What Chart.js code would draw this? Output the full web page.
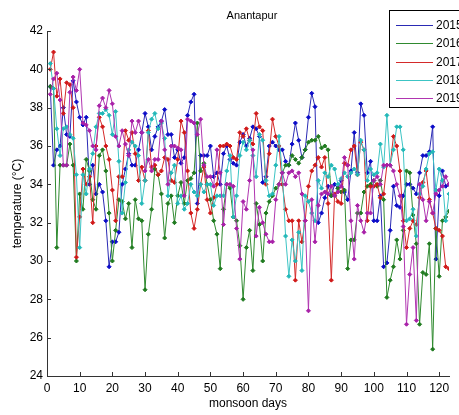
<!DOCTYPE html>
<html>
<head>
<meta charset="utf-8">
<script src="https://cdn.jsdelivr.net/npm/chart.js@4/dist/chart.umd.min.js"></script>
<style>
  html, body { margin: 0; padding: 0; background: #fff; }
  #wrap { width: 459px; height: 415px; }
</style>
</head>
<body>
<div id="wrap"><canvas id="chart" width="459" height="415"></canvas></div>
<script>
// ===== Data =====
const chartTitle = 'Anantapur';
const xTitle = 'monsoon days';
const yTitle = 'temperature (°C)';
const years = ['2015', '2016', '2017', '2018', '2019'];
const xTicks = [0, 10, 20, 30, 40, 50, 60, 70, 80, 90, 100, 110, 120];
const yTicks = [24, 26, 28, 30, 32, 34, 36, 38, 40, 42];

const t2015 = [
  39.1, 35.0, 35.8, 36.0, 38.0, 36.6, 36.5, 39.4, 38.3, 37.5,
  37.1, 37.5, 34.0, 35.0, 33.5, 34.0, 33.6, 32.1, 29.7, 31.0,
  31.0, 31.5, 34.0, 34.8, 35.6, 35.0, 35.0, 35.8, 36.7, 37.7,
  37.0, 35.8, 36.5, 37.0, 37.3, 37.9, 36.6, 36.6, 35.4, 35.8,
  35.1, 35.4, 37.6, 38.3, 38.7, 33.0, 35.5, 35.5, 35.5, 36.0,
  34.4, 34.6, 34.0, 35.6, 36.0, 35.3, 35.1, 35.0, 36.2, 36.6,
  36.0, 36.4, 37.0, 36.9, 36.5, 34.1, 34.4, 36.0, 36.2, 36.0,
  35.8, 35.8, 35.2, 35.0, 36.1, 37.2, 36.3, 35.4, 35.8, 37.5,
  38.75, 38.05, 32.0, 32.5, 33.3, 33.9, 33.4, 34.0, 33.8, 34.2,
  33.6, 33.2, 34.7, 36.7, 34.6, 38.2, 37.6, 34.6, 35.2, 32.1,
  32.1, 33.4, 29.7, 29.9, 31.6, 33.9, 32.9, 32.8, 33.4, 34.0,
  34.0, 33.8, 33.5, 34.6, 35.5, 35.5, 35.7, 37.0, 30.1, 33.4,
  34.7, 33.9, 34.0
];
const t2016 = [
  39.1, 39.0, 30.7, 35.0, 35.0, 35.0, 36.1, 35.0, 30.0, 33.5,
  32.7, 35.3, 34.7, 33.2, 32.7, 35.5, 35.8, 34.7, 32.5, 30.0,
  31.6, 33.2, 33.1, 32.2, 33.0, 30.7, 33.2, 32.2, 32.1, 28.5,
  31.4, 32.7, 34.8, 34.5, 33.5, 31.2, 33.0, 33.4, 32.0, 33.4,
  34.1, 33.0, 34.2, 34.3, 34.6, 37.2, 34.7, 35.1, 34.0, 33.2,
  32.1, 31.4, 29.6, 32.7, 34.0, 33.8, 32.3, 32.1, 30.8, 28.0,
  30.7, 31.6, 29.5, 33.0, 31.9, 30.0, 32.5, 33.1, 33.4, 33.8,
  34.0, 34.6, 35.0, 35.0, 35.5, 35.3, 35.1, 35.4, 35.8, 36.2,
  36.3, 36.3, 36.5, 35.9, 36.0, 35.8, 33.4, 33.4, 33.8, 33.6,
  33.7, 29.6, 31.1, 31.1, 32.5, 32.5, 33.6, 33.9, 34.0, 34.2,
  33.9, 34.2, 33.2, 28.1, 29.0, 29.7, 31.1, 30.1, 31.6, 34.7,
  34.6, 32.4, 30.9, 26.7, 29.4, 29.3, 30.9, 25.4, 31.7, 29.2,
  32.1, 32.3, 32.6
];
const t2017 = [
  40.0, 40.9, 38.6, 39.5, 37.7, 39.3, 39.2, 38.0, 30.2, 32.3,
  34.8, 34.0, 34.4, 32.0, 36.0, 37.5, 37.0, 36.0, 35.3, 33.7,
  32.1, 34.4, 34.4, 36.8, 36.3, 36.7, 35.6, 34.2, 34.9, 34.2,
  36.8, 34.9, 35.0, 34.5, 34.7, 35.4, 35.3, 34.2, 34.1, 35.3,
  37.3, 36.7, 34.7, 32.5, 31.7, 32.7, 34.0, 34.9, 33.2, 32.5,
  33.3, 34.0, 36.0, 36.0, 36.1, 36.0, 35.4, 35.3, 36.7, 36.5,
  36.9, 36.3, 36.1, 37.7, 37.0, 36.8, 34.0, 35.6, 37.4, 36.5,
  36.0, 34.0, 32.7, 32.1, 32.1, 29.0, 32.1, 31.0, 32.1, 33.9,
  34.7, 35.0, 35.4, 34.9, 35.4, 33.0, 29.0, 33.5, 33.1, 33.0,
  35.1, 35.0, 35.8, 36.0, 34.5, 36.2, 35.8, 32.1, 33.9, 33.9,
  34.0, 33.3, 33.5, 35.0, 35.0, 36.5, 36.0, 34.7, 32.1, 30.7,
  31.7, 32.1, 31.9, 33.3, 34.1, 34.7, 33.2, 32.5, 31.7, 31.6,
  31.3, 29.7, 29.6
];
const t2018 = [
  40.3, 39.0, 36.9, 35.5, 36.9, 37.0, 36.6, 36.4, 34.5, 30.7,
  34.5, 33.5, 34.8, 35.6, 37.0, 37.7, 37.7, 37.9, 37.6, 36.6,
  37.8, 35.2, 32.5, 34.1, 35.8, 36.2, 36.0, 35.5, 33.0, 34.2,
  36.7, 37.4, 37.7, 36.9, 37.2, 36.4, 33.4, 34.6, 35.0, 33.0,
  33.4, 32.7, 33.0, 34.0, 33.6, 33.4, 34.0, 33.6, 34.0, 34.0,
  32.9, 33.4, 33.4, 33.4, 34.7, 35.5, 32.3, 33.4, 35.5, 36.2,
  35.8, 36.3, 35.5, 34.4, 36.6, 36.3, 34.2, 33.4, 33.5, 35.0,
  36.5, 34.6, 31.3, 29.2, 31.1, 30.0, 31.5, 29.5, 33.4, 33.1,
  32.5, 32.1, 34.2, 33.8, 34.6, 34.4, 35.0, 34.8, 34.0, 34.3,
  34.6, 34.4, 34.6, 34.8, 34.5, 36.3, 35.8, 34.2, 34.8, 34.5,
  34.6, 36.1, 34.9, 37.6, 35.0, 35.8, 37.0, 37.0, 35.8, 32.1,
  32.2, 32.7, 31.3, 33.5, 33.9, 34.8, 35.6, 35.7, 33.7, 34.8,
  34.2, 32.1, 33.5
];
const t2019 = [
  38.7, 39.5, 39.8, 38.4, 35.0, 35.0, 38.8, 39.6, 38.9, 40.0,
  37.2, 37.1, 36.8, 36.0, 35.8, 38.1, 38.5, 38.0, 38.9, 38.2,
  36.5, 36.0, 36.8, 36.1, 35.5, 37.3, 36.7, 37.3, 36.7, 34.7,
  35.3, 34.7, 35.3, 35.3, 37.3, 35.8, 34.0, 36.0, 36.0, 35.9,
  35.8, 33.4, 37.4, 37.3, 37.2, 36.6, 37.4, 35.0, 34.4, 34.4,
  33.9, 35.8, 34.6, 31.9, 34.0, 34.0, 33.9, 31.7, 30.1, 33.1,
  32.7, 34.2, 35.8, 31.3, 32.8, 32.0, 31.4, 31.0, 31.0, 33.2,
  34.0, 34.6, 34.0, 34.6, 34.7, 34.4, 34.6, 33.5, 32.1, 27.4,
  33.2, 31.0, 32.9, 33.5, 33.6, 33.5, 33.9, 33.4, 33.6, 33.9,
  35.4, 35.0, 32.1, 30.1, 32.9, 32.1, 31.5, 32.5, 32.5, 34.2,
  34.4, 34.0, 35.0, 35.0, 35.0, 34.7, 34.0, 33.4, 31.8, 26.7,
  29.3, 30.7, 26.9, 34.0, 33.2, 32.1, 33.1, 32.5, 33.5, 33.7,
  33.9, 34.4, 34.0
];

// ===== Styling =====
const series = [t2015, t2016, t2017, t2018, t2019];
const lineColors  = ['#2a2ab4', '#2f8a2f', '#d42a2a', '#3cc4c4', '#b035b0'];
const pointColors = ['#0a0ac8', '#1f7a1f', '#d01818', '#22b8b8', '#a820a8'];
const FONT = '"Liberation Sans", Arial, sans-serif';
Chart.defaults.font.family = FONT;
Chart.defaults.color = '#000';

const datasets = series.map((vals, i) => ({
  label: years[i],
  data: vals.map((v, d) => ({ x: d + 1, y: v })),
  borderColor: lineColors[i],
  backgroundColor: pointColors[i],
  pointBackgroundColor: pointColors[i],
  pointBorderColor: pointColors[i],
  borderWidth: 1,
  pointStyle: 'rectRot',
  pointRadius: 2,
  pointBorderWidth: 1,
  order: series.length - i
}));

// MATLAB-like inward ticks, title and boxed legend
const matlabDecor = {
  id: 'matlabDecor',
  afterDraw(chart) {
    const { ctx, chartArea: a, scales: { x, y } } = chart;
    ctx.save();
    ctx.strokeStyle = '#333';
    ctx.lineWidth = 1;
    ctx.beginPath();
    xTicks.forEach(v => {
      const px = Math.round(x.getPixelForValue(v)) + 0.5;
      ctx.moveTo(px, a.bottom); ctx.lineTo(px, a.bottom - 4);
    });
    yTicks.forEach(v => {
      const py = Math.round(y.getPixelForValue(v)) + 0.5;
      ctx.moveTo(a.left, py); ctx.lineTo(a.left + 4, py);
    });
    ctx.stroke();

    ctx.fillStyle = '#000';
    ctx.font = '11px ' + FONT;
    ctx.textAlign = 'center';
    ctx.textBaseline = 'middle';
    ctx.fillText(chartTitle, (a.left + a.right) / 2 + 4, 16);

    // legend box
    const bx = 389.5, by = 10.5, bw = 90, bh = 97;
    ctx.fillStyle = '#fff';
    ctx.fillRect(bx, by, bw, bh);
    ctx.strokeStyle = '#000';
    ctx.strokeRect(bx, by, bw, bh);
    ctx.font = '12px ' + FONT;
    ctx.textAlign = 'left';
    years.forEach((yr, i) => {
      const ly = Math.round(25 + i * 18.3) + 0.5;
      ctx.strokeStyle = lineColors[i];
      ctx.beginPath(); ctx.moveTo(396, ly); ctx.lineTo(433, ly); ctx.stroke();
      ctx.fillStyle = '#000';
      ctx.fillText(yr, 436, ly);
    });
    ctx.restore();
  }
};

new Chart(document.getElementById('chart'), {
  type: 'line',
  data: { datasets },
  options: {
    responsive: false,
    animation: false,
    layout: { padding: { top: 31, right: 10, bottom: 0, left: 0 } },
    plugins: { legend: { display: false }, tooltip: { enabled: false } },
    scales: {
      x: {
        type: 'linear', min: 0, max: 123,
        afterBuildTicks: s => { s.ticks = xTicks.map(v => ({ value: v })); },
        afterFit: s => { s.height = 39; },
        grid: { display: false, drawTicks: false },
        border: { display: true, color: '#333' },
        ticks: { padding: 5, font: { size: 12 }, color: '#000' },
        title: { display: true, text: xTitle, font: { size: 12 }, padding: { top: 0, bottom: 4 } }
      },
      y: {
        type: 'linear', min: 24, max: 42,
        afterBuildTicks: s => { s.ticks = yTicks.map(v => ({ value: v })); },
        afterFit: s => { s.width = 47; },
        grid: { display: false, drawTicks: false },
        border: { display: true, color: '#333' },
        ticks: { padding: 4, font: { size: 12 }, color: '#000' },
        title: { display: true, text: yTitle, font: { size: 12 }, padding: { top: 10, bottom: 0 } }
      }
    }
  },
  plugins: [matlabDecor]
});
</script>
</body>
</html>
